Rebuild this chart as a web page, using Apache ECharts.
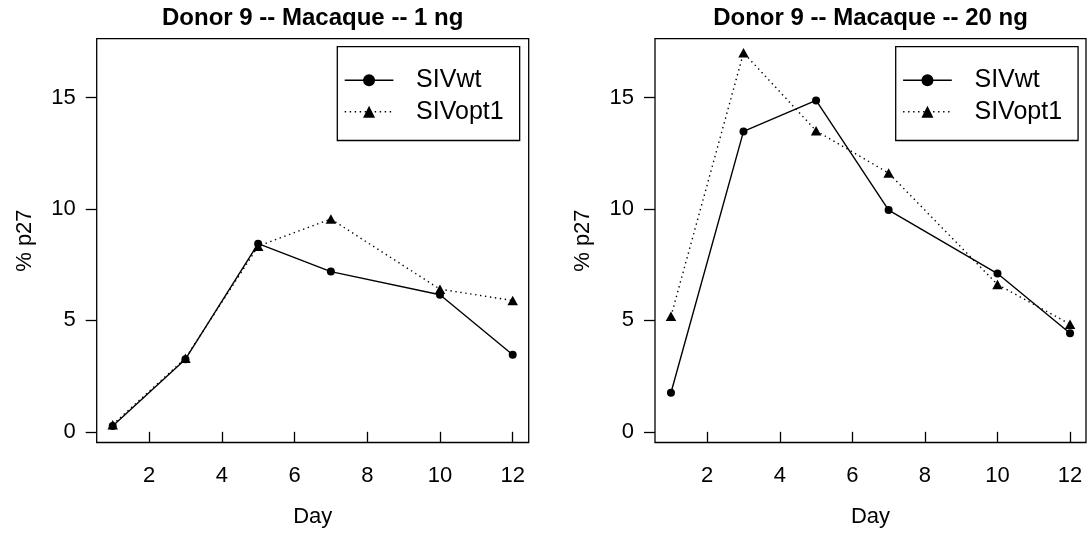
<!DOCTYPE html>
<html>
<head>
<meta charset="utf-8">
<script src="https://cdn.jsdelivr.net/npm/echarts@6/dist/echarts.min.js"></script>
<style>
  html, body { margin: 0; padding: 0; background: #fff; }
  #chart { width: 1087px; height: 533px; }
</style>
</head>
<body>
<div id="chart"></div>
<script>
// Sampling days (x axis)
const days = [1, 3, 5, 7, 10, 12];

// % p27 per day, 1 ng inoculum
const wt1ng   = [0.26, 3.26, 8.44, 7.19, 6.15, 3.46];
const opt1ng  = [0.32, 3.30, 8.33, 9.55, 6.40, 5.89];

// % p27 per day, 20 ng inoculum
const wt20ng  = [1.75, 13.48, 14.87, 9.95, 7.10, 4.42];
const opt20ng = [5.18, 17.01, 13.51, 11.61, 6.61, 4.83];

// Panel titles, series names and tick labels
const titles = ['Donor 9 -- Macaque -- 1 ng', 'Donor 9 -- Macaque -- 20 ng'];
const seriesNames = ['SIVwt', 'SIVopt1'];
const xTicks = [2, 4, 6, 8, 10, 12];
const yTicks = [0, 5, 10, 15];

const FONT = 'Liberation Sans, Arial, Helvetica, sans-serif';
const INK = '#000';
const AXIS_FS = 22;

const pairs = (ys) => days.map((d, i) => [d, ys[i]]);

// Plot regions of the two panels
const grids = [
  { left: 96.7, top: 38.7, width: 432, height: 405.3 },
  { left: 655,  top: 38.7, width: 431, height: 405.3 }
];

function xAxisFor(i) {
  return {
    type: 'value', gridIndex: i,
    min: 0.56, max: 12.44,
    name: 'Day', nameLocation: 'middle', nameGap: 63.5,
    nameTextStyle: { fontFamily: FONT, fontSize: AXIS_FS, color: INK },
    axisLine: { show: false },
    axisTick: { show: true, length: 11, customValues: xTicks, lineStyle: { color: INK, width: 1.3 } },
    axisLabel: { customValues: xTicks, margin: 22, fontFamily: FONT, fontSize: AXIS_FS, color: INK },
    splitLine: { show: false }
  };
}

function yAxisFor(i) {
  return {
    type: 'value', gridIndex: i,
    min: -0.48, max: 17.64,
    name: '% p27', nameLocation: 'middle', nameGap: 61, nameRotate: 90,
    nameTextStyle: { fontFamily: FONT, fontSize: AXIS_FS, color: INK },
    axisLine: { show: false },
    axisTick: { show: true, length: 11, customValues: yTicks, lineStyle: { color: INK, width: 1.3 } },
    axisLabel: { customValues: yTicks, margin: 21, fontFamily: FONT, fontSize: AXIS_FS, color: INK },
    splitLine: { show: false }
  };
}

function wtSeries(i, ys) {
  return {
    name: seriesNames[0], type: 'line', xAxisIndex: i, yAxisIndex: i,
    data: pairs(ys),
    symbol: 'circle', symbolSize: 8,
    lineStyle: { color: INK, width: 1.4, type: 'solid' },
    itemStyle: { color: INK },
    z: 2
  };
}

function optSeries(i, ys) {
  return {
    name: seriesNames[1], type: 'line', xAxisIndex: i, yAxisIndex: i,
    data: pairs(ys),
    symbol: 'triangle', symbolSize: [10.5, 9.5],
    lineStyle: { color: INK, width: 1.4, type: [1.4, 3.6], cap: 'butt' },
    itemStyle: { color: INK },
    z: 3
  };
}

function legendFor(left) {
  return {
    data: seriesNames,
    orient: 'vertical',
    left: left, top: 46.7,
    padding: [21.1, 16, 16.3, 6.7],
    itemGap: 6.4,
    itemWidth: 48.7, itemHeight: 15,
    borderColor: INK, borderWidth: 1.3, backgroundColor: '#fff',
    lineStyle: { width: 1.4 },
    selectedMode: false,
    textStyle: { fontFamily: FONT, fontSize: 25, lineHeight: 20, color: INK, padding: [0, 0, 0, 17.7] }
  };
}

const chart = echarts.init(document.getElementById('chart'), null, { renderer: 'canvas' });
chart.setOption({
  animation: false,
  backgroundColor: '#fff',
  title: titles.map((t, i) => ({
    text: t,
    left: grids[i].left + grids[i].width / 2,
    top: 6.3,
    padding: 0,
    textAlign: 'center',
    textVerticalAlign: 'top',
    textStyle: { fontFamily: FONT, fontSize: 24, fontWeight: 'bold', color: INK }
  })),
  grid: grids.map(g => Object.assign({ show: true, borderColor: INK, borderWidth: 1.3, backgroundColor: 'transparent', containLabel: false }, g)),
  xAxis: [xAxisFor(0), xAxisFor(1)],
  yAxis: [yAxisFor(0), yAxisFor(1)],
  legend: [legendFor(337.3), legendFor(895.7)],
  series: [
    wtSeries(0, wt1ng), optSeries(0, opt1ng),
    wtSeries(1, wt20ng), optSeries(1, opt20ng)
  ]
});
</script>
</body>
</html>
